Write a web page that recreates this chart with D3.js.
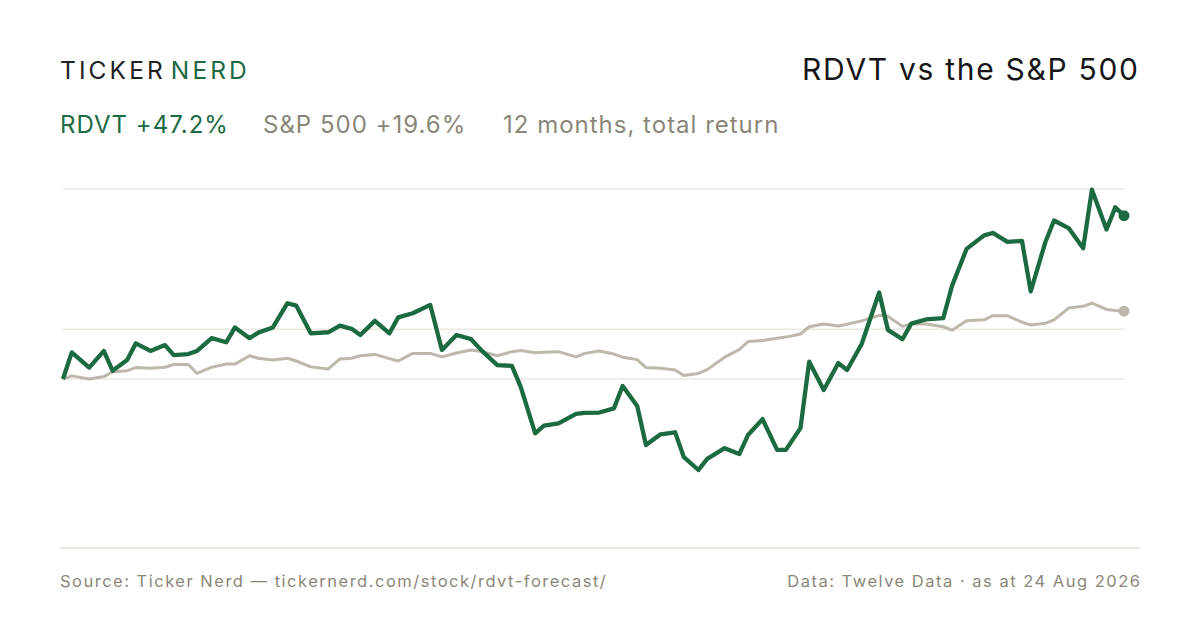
<!DOCTYPE html>
<html>
<head>
<meta charset="utf-8">
<script src="https://cdn.jsdelivr.net/npm/d3@7"></script>
<style>
  body { margin: 0; background: #fff; }
  svg { display: block; font-family: Inter, "Noto Sans", sans-serif; }
</style>
</head>
<body>
<svg id="chart"></svg>
<script>
// Sample dates (every third trading session)
const dates = [
  "2025-08-25","2025-08-28","2025-09-03","2025-09-08","2025-09-11","2025-09-16","2025-09-19","2025-09-24","2025-09-29","2025-10-02",
  "2025-10-07","2025-10-10","2025-10-15","2025-10-20","2025-10-23","2025-10-28","2025-10-31","2025-11-05","2025-11-10","2025-11-13",
  "2025-11-18","2025-11-24","2025-11-28","2025-12-02","2025-12-05","2025-12-10","2025-12-15","2025-12-18","2025-12-23","2025-12-29",
  "2026-01-02","2026-01-07","2026-01-12","2026-01-16","2026-01-21","2026-01-26","2026-01-29","2026-02-03","2026-02-06","2026-02-11",
  "2026-02-17","2026-02-20","2026-02-25","2026-03-02","2026-03-05","2026-03-10","2026-03-13","2026-03-18","2026-03-23","2026-03-26",
  "2026-03-31","2026-04-03","2026-04-09","2026-04-14","2026-04-17","2026-04-22","2026-04-27","2026-04-30","2026-05-05","2026-05-08",
  "2026-05-13","2026-05-18","2026-05-21","2026-05-26","2026-06-01","2026-06-04","2026-06-09","2026-06-12","2026-06-17","2026-06-23",
  "2026-06-26","2026-07-01","2026-07-07","2026-07-10","2026-07-15","2026-07-20","2026-07-23","2026-07-28","2026-07-31","2026-08-05",
  "2026-08-10","2026-08-13","2026-08-18","2026-08-21","2026-08-24"
];

// Cumulative total return, %
const rdvtReturn = [
  0, 7.7, 3.3, 8.1, 2.4, 5.5, 10.3, 8.1, 9.8, 6.9,
  7.2, 8.1, 11.8, 10.6, 14.9, 11.8, 13.4, 14.9, 21.9, 21.2,
  13.2, 13.5, 15.4, 14.5, 12.7, 16.8, 13.2, 17.8, 19.0, 21.4,
  8.4, 12.7, 11.5, 7.9, 4.0, 3.8, -2.2, -15.7, -13.5, -12.8,
  -10.1, -9.8, -9.7, -8.5, -2.0, -7.8, -19.1, -16.0, -15.4, -22.6,
  -26.3, -23.1, -20.0, -21.7, -16.2, -11.6, -20.5, -20.5, -14.2, 5.0,
  -3.2, 4.6, 2.6, 10.1, 25.0, 14.2, 11.5, 16.0, 17.2, 17.6,
  26.9, 37.6, 41.5, 42.2, 39.6, 39.9, 25.3, 39.5, 45.8, 43.6,
  37.8, 54.7, 43.2, 49.6, 47.2
];

const spxReturn = [
  0, 0.9, 0, 0.7, 2.1, 2.4, 3.3, 3.1, 3.4, 4.2,
  4.2, 1.6, 3.4, 4.3, 4.3, 6.7, 6.0, 5.5, 6.0, 5.2,
  3.5, 2.9, 5.8, 6.0, 6.7, 7.1, 5.9, 5.2, 7.4, 7.4,
  6.4, 7.5, 8.4, 7.9, 6.7, 7.9, 8.2, 7.6, 7.7, 7.9,
  6.4, 7.4, 8.1, 7.2, 6.3, 5.6, 3.3, 3.1, 2.6, 1.0,
  1.6, 2.7, 6.3, 8.5, 10.8, 11.1, 11.8, 12.1, 13.0, 15.1,
  15.9, 15.3, 15.8, 16.8, 18.4, 18.1, 15.2, 15.9, 15.9, 15.1,
  14.1, 16.8, 17.1, 18.3, 18.3, 16.4, 15.6, 16.1, 17.1, 20.5,
  21.0, 21.9, 20.1, 19.8, 19.6
];

// Reference lines, %
const gridValues = [0, 14.4, 54.9];

const width = 1200;
const height = 630;
const plotLeft = 63;
const plotRight = 1124;

const green = "#1b6a42";
const sand = "#bdb7ac";
const mutedText = "#8b8778";

const parseDate = d3.timeParse("%Y-%m-%d");
const rows = dates.map((d, i) => ({ date: parseDate(d), rdvt: rdvtReturn[i], spx: spxReturn[i] }));

const svg = d3.select("#chart")
    .attr("width", width)
    .attr("height", height)
    .attr("viewBox", [0, 0, width, height]);

const x = d3.scaleTime()
    .domain(d3.extent(rows, d => d.date))
    .range([plotLeft, plotRight]);

const y = d3.scaleLinear()
    .domain([-26.3, 54.9])
    .range([470, 189]);

// Header
const brand = svg.append("text")
    .attr("x", 60)
    .attr("y", 79)
    .attr("font-size", 24.5)
    .attr("letter-spacing", "3.1px");
brand.append("tspan").attr("fill", "#222").text("TICKER");
brand.append("tspan").attr("fill", green).attr("dx", 5).text("NERD");

svg.append("text")
    .attr("x", 1139.7)
    .attr("y", 80)
    .attr("text-anchor", "end")
    .attr("font-size", 30)
    .attr("letter-spacing", "1.7px")
    .attr("fill", "#161616")
    .text("RDVT vs the S&P 500");

const sub = svg.append("text")
    .attr("x", 60)
    .attr("y", 133)
    .attr("font-size", 24)
    .attr("letter-spacing", "1px");
sub.append("tspan").attr("fill", green).text("RDVT +47.2%");
sub.append("tspan").attr("fill", mutedText).attr("x", 263).text("S&P 500 +19.6%");
sub.append("tspan").attr("fill", mutedText).attr("x", 503).text("12 months, total return");

// Gridlines
svg.append("g")
  .selectAll("line")
  .data(gridValues)
  .join("line")
    .attr("x1", plotLeft)
    .attr("x2", plotRight)
    .attr("y1", d => y(d))
    .attr("y2", d => y(d))
    .attr("stroke", "#ebe8e2")
    .attr("stroke-width", 1.5);

// Lines
const line = key => d3.line()
    .x(d => x(d.date))
    .y(d => y(d[key]));

svg.append("path")
    .datum(rows)
    .attr("fill", "none")
    .attr("stroke", sand)
    .attr("stroke-width", 3)
    .attr("stroke-linejoin", "round")
    .attr("d", line("spx"));

svg.append("path")
    .datum(rows)
    .attr("fill", "none")
    .attr("stroke", green)
    .attr("stroke-width", 4.3)
    .attr("stroke-linejoin", "round")
    .attr("d", line("rdvt"));

const last = rows[rows.length - 1];
svg.append("circle")
    .attr("cx", x(last.date))
    .attr("cy", y(last.spx))
    .attr("r", 5.5)
    .attr("fill", sand);
svg.append("circle")
    .attr("cx", x(last.date))
    .attr("cy", y(last.rdvt))
    .attr("r", 5.5)
    .attr("fill", green);

// Footer
svg.append("line")
    .attr("x1", 60)
    .attr("x2", 1140)
    .attr("y1", 548)
    .attr("y2", 548)
    .attr("stroke", "#e2dfd7")
    .attr("stroke-width", 1.5);

svg.append("text")
    .attr("x", 60)
    .attr("y", 587)
    .attr("font-size", 16.5)
    .attr("letter-spacing", "1.5px")
    .attr("fill", mutedText)
    .text("Source: Ticker Nerd \u2014 tickernerd.com/stock/rdvt-forecast/");

svg.append("text")
    .attr("x", 1141.5)
    .attr("y", 587)
    .attr("text-anchor", "end")
    .attr("font-size", 16.5)
    .attr("letter-spacing", "1.5px")
    .attr("fill", mutedText)
    .text("Data: Twelve Data \u00b7 as at 24 Aug 2026");
</script>
</body>
</html>
